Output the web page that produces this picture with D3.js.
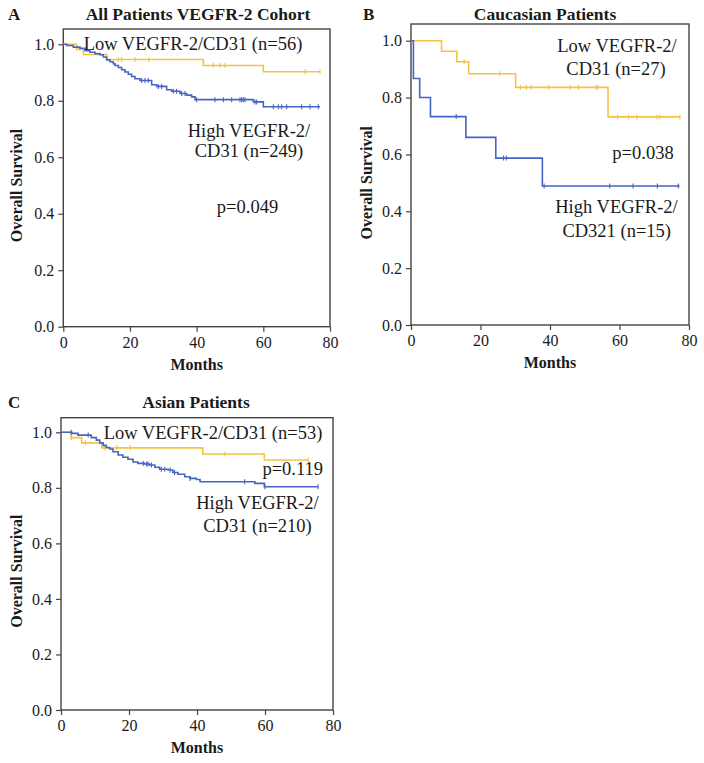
<!DOCTYPE html>
<html>
<head>
<meta charset="utf-8">
<script src="https://cdn.jsdelivr.net/npm/d3@7"></script>
<style>
  body { margin: 0; background: #fff; }
  svg { display: block; }
  text { font-family: "Liberation Serif", "Times New Roman", serif; fill: #1a1a1a; }
</style>
</head>
<body>
<svg id="chart" width="704" height="763"></svg>
<script>
// ---- data (months, survival proportion) ----
var yTicks = [0, 0.2, 0.4, 0.6, 0.8, 1.0];
var xTicks = [0, 20, 40, 60, 80];

// A: all patients
var aLowTimes = [4, 6, 13, 42, 60];
var aLowSurv = [0.982, 0.964, 0.946, 0.925, 0.903];
var aLowEnd = 77;
var aLowCensor = [16.5, 17.5, 21.5, 25.7, 45, 47, 48.5, 72.5, 77];

var aHighTimes = [1, 3, 5, 6.5, 8, 9.5, 11, 12, 13, 14, 15, 15.5, 16.5, 17.5, 18.5, 19.5, 20.5, 21.5, 23, 26.5, 28, 31, 32.5, 35, 37, 38.5, 39.5, 57, 60];
var aHighSurv = [0.996, 0.99, 0.986, 0.977, 0.972, 0.967, 0.963, 0.955, 0.945, 0.938, 0.931, 0.925, 0.918, 0.91, 0.902, 0.894, 0.886, 0.878, 0.872, 0.857, 0.851, 0.839, 0.834, 0.826, 0.82, 0.814, 0.804, 0.796, 0.779];
var aHighEnd = 77;
var aHighCensor = [23.5, 24.5, 25.5, 28.5, 29.5, 33, 34, 35.5, 36.5, 40, 45.5, 48, 50.5, 53, 53.5, 54, 54.5, 57.5, 58, 63, 64.5, 65.5, 67, 71.5, 74, 76.5];

// B: caucasian patients
var bLowTimes = [8.8, 13.2, 16.6, 30.1, 56.7];
var bLowSurv = [0.963, 0.926, 0.884, 0.836, 0.732];
var bLowEnd = 77.4;
var bLowCensor = [15.3, 25.5, 31.5, 33.2, 34.6, 39.6, 45.8, 48.2, 53.2, 53.7, 59.5, 62.6, 65, 70.8, 71.6, 77.4];

var bHighTimes = [0.7, 2.5, 5.6, 15.8, 24.4, 37.8];
var bHighSurv = [0.867, 0.8, 0.733, 0.66, 0.587, 0.489];
var bHighEnd = 77.3;
var bHighCensor = [13, 26.6, 27.4, 38.3, 57.2, 63.9, 70.9, 76.9];

// C: asian patients
var cLowTimes = [2.9, 6.1, 12, 41.7, 59.8];
var cLowSurv = [0.981, 0.962, 0.944, 0.922, 0.9];
var cLowEnd = 72.7;
var cLowCensor = [3.1, 7.2, 12.9, 16.4, 20.3, 48.2, 72.7];

var cHighTimes = [3.2, 5, 8.9, 10.4, 11.4, 12.4, 13.3, 14.3, 15.3, 16.8, 18.2, 19.7, 21.2, 22.6, 24.6, 26.1, 27.6, 29, 31.5, 32.9, 34.4, 36.4, 37.9, 39.8, 40.9, 57, 59.8];
var cHighSurv = [0.996, 0.99, 0.981, 0.972, 0.962, 0.953, 0.945, 0.94, 0.93, 0.918, 0.91, 0.903, 0.893, 0.888, 0.886, 0.882, 0.874, 0.867, 0.864, 0.855, 0.849, 0.84, 0.834, 0.83, 0.822, 0.816, 0.804];
var cHighEnd = 75.7;
var cHighCensor = [3, 8, 24.2, 25.2, 25.6, 26.6, 29.5, 30.5, 32.1, 33.4, 38, 54, 60, 75.6];

var lowColour = '#f4c344';
var highColour = '#4664c2';

var svg = d3.select('#chart');

// survival value of a step curve at time t
function survAt(times, surv, t) {
  var s = 1;
  for (var i = 0; i < times.length; i++) {
    if (times[i] <= t) s = surv[i];
  }
  return s;
}

function drawCurve(g, x, y, times, surv, end, censor, colour) {
  var pts = [[0, 1]];
  times.forEach(function (t, i) { pts.push([t, surv[i]]); });
  pts.push([end, surv[surv.length - 1]]);

  var line = d3.line()
    .x(d => x(d[0]))
    .y(d => y(d[1]))
    .curve(d3.curveStepAfter);

  g.append('path')
    .attr('d', line(pts))
    .attr('fill', 'none')
    .attr('stroke', colour)
    .attr('stroke-width', 1.6);

  // censor marks
  g.selectAll(null)
    .data(censor)
    .enter()
    .append('line')
    .attr('x1', d => x(d))
    .attr('x2', d => x(d))
    .attr('y1', d => y(survAt(times, surv, d)) - 2.5)
    .attr('y2', d => y(survAt(times, surv, d)) + 2.5)
    .attr('stroke', colour)
    .attr('stroke-width', 1.1);
}

function drawPanel(p) {
  var g = svg.append('g');
  var x = d3.scaleLinear().domain([0, 80]).range([p.left, p.right]);
  var y = d3.scaleLinear().domain([0, 1]).range([p.bottom, p.one]);

  // frame
  g.append('rect')
    .attr('x', p.left).attr('y', p.frameTop)
    .attr('width', p.right - p.left).attr('height', p.bottom - p.frameTop)
    .attr('fill', 'none').attr('stroke', '#444').attr('stroke-width', 1.4);

  var yAxis = d3.axisLeft(y).tickValues(yTicks).tickFormat(d3.format('.1f'))
    .tickSize(5).tickPadding(4);
  var yg = g.append('g').attr('transform', `translate(${p.left},0)`).call(yAxis);
  yg.select('.domain').remove();

  var xAxis = d3.axisBottom(x).tickValues(xTicks).tickSize(5).tickPadding(5);
  var xg = g.append('g').attr('transform', `translate(0,${p.bottom})`).call(xAxis);
  xg.select('.domain').remove();

  g.selectAll('.tick line').attr('stroke', '#444').attr('stroke-width', 1.2);
  g.selectAll('.tick text')
    .style('font-family', '"Liberation Serif", serif')
    .style('font-size', '16px')
    .attr('fill', '#1a1a1a');

  drawCurve(g, x, y, p.low.times, p.low.surv, p.low.end, p.low.censor, lowColour);
  drawCurve(g, x, y, p.high.times, p.high.surv, p.high.end, p.high.censor, highColour);

  // letter + title
  g.append('text').attr('x', p.letterX).attr('y', p.titleY)
    .style('font-size', '17px').style('font-weight', 'bold').text(p.letter);
  g.append('text').attr('x', p.titleX).attr('y', p.titleY)
    .attr('text-anchor', 'middle')
    .style('font-size', '17.5px').style('font-weight', 'bold').text(p.title);

  // axis titles
  g.append('text')
    .attr('x', (p.left + p.right) / 2).attr('y', p.bottom + 43)
    .attr('text-anchor', 'middle')
    .style('font-size', '16px').style('font-weight', 'bold').text('Months');
  g.append('text')
    .attr('transform', `translate(${p.yLabelX},${(p.bottom + p.one) / 2}) rotate(-90)`)
    .attr('text-anchor', 'middle')
    .style('font-size', '16px').style('font-weight', 'bold').text('Overall Survival');

  // annotations
  p.notes.forEach(function (n) {
    g.append('text').attr('x', n.x).attr('y', n.y)
      .attr('text-anchor', n.anchor || 'middle')
      .style('font-size', '18.5px').text(n.text);
  });
}

drawPanel({
  letter: 'A', title: 'All Patients VEGFR-2 Cohort',
  left: 63.3, right: 330, bottom: 326.7, one: 44.3, frameTop: 29,
  letterX: 8, titleX: 198, titleY: 20, yLabelX: 22,
  low: { times: aLowTimes, surv: aLowSurv, end: aLowEnd, censor: aLowCensor },
  high: { times: aHighTimes, surv: aHighSurv, end: aHighEnd, censor: aHighCensor },
  notes: [
    { x: 193, y: 50, text: 'Low VEGFR-2/CD31 (n=56)' },
    { x: 249, y: 137, text: 'High VEGFR-2/' },
    { x: 249, y: 157, text: 'CD31 (n=249)' },
    { x: 247.5, y: 213, text: 'p=0.049' }
  ]
});

drawPanel({
  letter: 'B', title: 'Caucasian Patients',
  left: 411, right: 689, bottom: 325, one: 40.7, frameTop: 24,
  letterX: 363, titleX: 545, titleY: 20, yLabelX: 371.5,
  low: { times: bLowTimes, surv: bLowSurv, end: bLowEnd, censor: bLowCensor },
  high: { times: bHighTimes, surv: bHighSurv, end: bHighEnd, censor: bHighCensor },
  notes: [
    { x: 617, y: 52, text: 'Low VEGFR-2/' },
    { x: 616, y: 75, text: 'CD31 (n=27)' },
    { x: 643, y: 159, text: 'p=0.038' },
    { x: 616.5, y: 213, text: 'High VEGFR-2/' },
    { x: 616.7, y: 237, text: 'CD321 (n=15)' }
  ]
});

drawPanel({
  letter: 'C', title: 'Asian Patients',
  left: 61, right: 333, bottom: 710, one: 432.3, frameTop: 417.7,
  letterX: 8, titleX: 196, titleY: 408, yLabelX: 21.7,
  low: { times: cLowTimes, surv: cLowSurv, end: cLowEnd, censor: cLowCensor },
  high: { times: cHighTimes, surv: cHighSurv, end: cHighEnd, censor: cHighCensor },
  notes: [
    { x: 213, y: 438.5, text: 'Low VEGFR-2/CD31 (n=53)' },
    { x: 323, y: 475, text: 'p=0.119', anchor: 'end' },
    { x: 257.5, y: 508.5, text: 'High VEGFR-2/' },
    { x: 257.5, y: 531.7, text: 'CD31 (n=210)' }
  ]
});
</script>
</body>
</html>
